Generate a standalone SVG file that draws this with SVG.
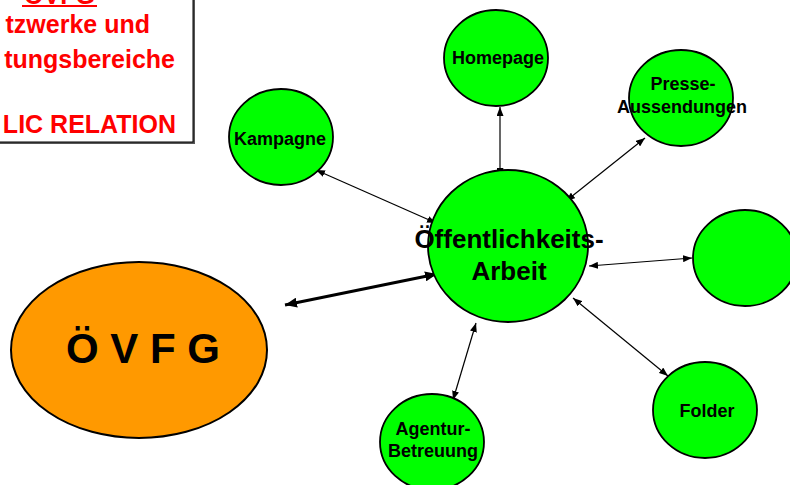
<svg xmlns="http://www.w3.org/2000/svg" width="790" height="485" viewBox="0 0 790 485">
<style>
.node{fill:#00ff00;stroke:#000;stroke-width:1.8}
.lbl{font-family:"Liberation Sans",Arial,sans-serif;font-weight:bold;fill:#000;text-anchor:middle}
.sm{font-size:18px}
.red{font-family:"Liberation Sans",Arial,sans-serif;font-weight:bold;fill:#ff0000;font-size:25px}
.con{stroke:#000;stroke-width:1.2;fill:none;marker-start:url(#ah);marker-end:url(#ah)}
.thick{stroke:#000;stroke-width:3;fill:none;marker-start:url(#ahb);marker-end:url(#ahb)}
</style>
<defs>
<marker id="ah" markerUnits="userSpaceOnUse" markerWidth="9" markerHeight="7" refX="9" refY="3.5" orient="auto-start-reverse"><path d="M0,0 L9,3.5 L0,7 z" fill="#000"/></marker>
<marker id="ahb" markerUnits="userSpaceOnUse" markerWidth="12" markerHeight="10" refX="12" refY="5" orient="auto-start-reverse"><path d="M0,0 L12,5 L0,10 z" fill="#000"/></marker>
</defs>
<rect width="790" height="485" fill="#fff"/>
<g id="infobox">
<rect x="-10" y="-10" width="205" height="154" fill="#555"/>
<rect x="-10" y="-10" width="203" height="152" fill="#fff" stroke="#000" stroke-width="1"/>
<text class="red" x="59.5" y="3.5" text-anchor="middle">ÖVFG</text>
<rect x="22" y="5" width="75" height="2" fill="#ff0000"/>
<text class="red" x="150" y="33" text-anchor="end">tzwerke und</text>
<text class="red" x="175" y="68" text-anchor="end">tungsbereiche</text>
<text class="red" x="176" y="133" text-anchor="end">LIC RELATION</text>
</g>
<g id="connectors">
<line class="con" x1="436" y1="223" x2="316" y2="170"/>
<line class="con" x1="500" y1="177" x2="500" y2="107"/>
<line class="con" x1="566" y1="201" x2="645" y2="138"/>
<line class="con" x1="589" y1="266" x2="692" y2="258"/>
<line class="con" x1="573" y1="298" x2="668" y2="376"/>
<line class="con" x1="476" y1="323" x2="453" y2="400"/>
<line class="thick" x1="437" y1="274" x2="285" y2="305"/>
</g>
<g id="ovfg">
<ellipse cx="139" cy="350" rx="128" ry="88" fill="#ff9900" stroke="#000" stroke-width="2"/>
<text class="lbl" x="143" y="363" font-size="42">Ö V F G</text>
</g>
<g id="oeffentlichkeitsarbeit">
<ellipse class="node" cx="508" cy="246" rx="80" ry="76"/>
<text class="lbl" x="509" y="248" font-size="26">Öffentlichkeits-</text>
<text class="lbl" x="509" y="280" font-size="26">Arbeit</text>
</g>
<g id="homepage">
<ellipse class="node" cx="496" cy="58" rx="52" ry="48"/>
<text class="lbl sm" x="498" y="64">Homepage</text>
</g>
<g id="kampagne">
<ellipse class="node" cx="281" cy="137" rx="52" ry="48"/>
<text class="lbl sm" x="280" y="145">Kampagne</text>
</g>
<g id="presse">
<ellipse class="node" cx="681" cy="98" rx="52" ry="48"/>
<text class="lbl sm" x="683" y="90">Presse-</text>
<text class="lbl sm" x="682" y="113">Aussendungen</text>
</g>
<g id="leer">
<ellipse class="node" cx="745" cy="258" rx="52" ry="48"/>
</g>
<g id="folder">
<ellipse class="node" cx="705" cy="410" rx="52" ry="48"/>
<text class="lbl sm" x="707" y="417">Folder</text>
</g>
<g id="agentur">
<ellipse class="node" cx="432" cy="442" rx="52" ry="48"/>
<text class="lbl sm" x="433" y="435">Agentur-</text>
<text class="lbl sm" x="433" y="457">Betreuung</text>
</g>
</svg>
